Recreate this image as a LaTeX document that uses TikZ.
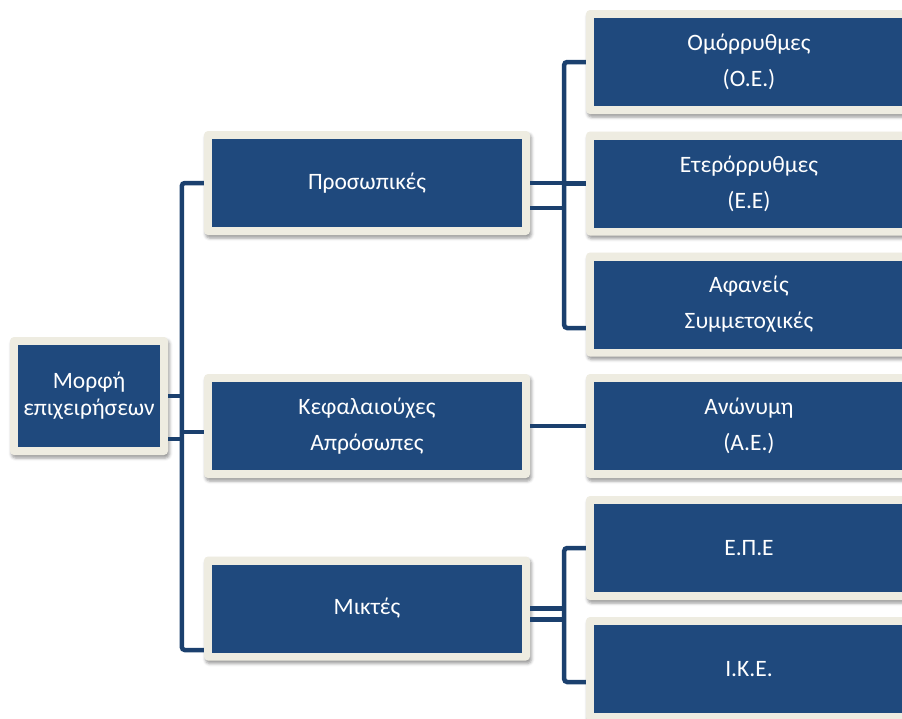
\documentclass[tikz,border=0pt]{standalone}
\usepackage{fontspec}
\setmainfont{Carlito}
\usepackage{xcolor}
\usetikzlibrary{calc,shadows.blur}
\definecolor{boxblue}{HTML}{1F497D}
\definecolor{framecream}{HTML}{EEECE1}
\definecolor{linkblue}{HTML}{1B406E}

\begin{document}
\begin{tikzpicture}[x=1pt, y=-1pt,
  box/.style={rounded corners=4pt, fill=framecream, inner sep=0pt, minimum width=326pt, minimum height=104pt,
    blur shadow={shadow xshift=1.5pt, shadow yshift=-3pt, shadow blur radius=3pt, shadow opacity=40},
    path picture={\fill[boxblue, sharp corners] ([shift={(8pt,8pt)}]path picture bounding box.south west) rectangle ([shift={(-8pt,-8pt)}]path picture bounding box.north east);},
    text=white, align=center, font=\fontsize{23.5}{36}\selectfont},
  rootbox/.style={box, minimum width=158pt, minimum height=118pt, font=\fontsize{23.5}{27}\selectfont},
  link/.style={linkblue, line width=4.5pt},
  trunk/.style={link, rounded corners=3pt}
]
\clip (0,0) rectangle (902,718);
% root and first level
\node[rootbox] (root) at (89,396) {Μορφή\\επιχειρήσεων};
\node[box] (pers) at (367,183) {Προσωπικές};
\node[box] (cap) at (367,426) {Κεφαλαιούχες\\Απρόσωπες};
\node[box] (mixed) at (367,608.5) {Μικτές};
% second level
\node[box] (oe) at (749,62) {Ομόρρυθμες\\(Ο.Ε.)};
\node[box] (ee) at (749,183.5) {Ετερόρρυθμες\\(Ε.Ε)};
\node[box] (afan) at (749,304.5) {Αφανείς\\Συμμετοχικές};
\node[box] (ae) at (749,426) {Ανώνυμη\\(Α.Ε.)};
\node[box] (epe) at (749,548) {Ε.Π.Ε};
\node[box] (ike) at (749,669) {Ι.Κ.Ε.};

\coordinate (ltrunk) at ($(pers.west)+(-22,0)$);
\coordinate (rtrunk) at ($(pers.east)+(34,0)$);

% root to first level
\draw[trunk] (pers.west) -- (ltrunk) |- ($(mixed.west)+(0,41.5)$);
\draw[link] (root.east) -- (root.east -| ltrunk);
\draw[link] ($(root.east)+(0,43)$) -- ($(root.east -| ltrunk)+(0,43)$);
\draw[link] ($(cap.west)+(0,6)$) -- ($(cap.west -| ltrunk)+(0,6)$);

% first to second level
\draw[trunk] (oe.west) -| (rtrunk) |- ($(afan.west)+(0,23.5)$);
\draw[link] (ee.west) -- (ee.west -| rtrunk);
\draw[link] (pers.east) -- (pers.east -| rtrunk);
\draw[link] ($(pers.east)+(0,25)$) -- ($(pers.east -| rtrunk)+(0,25)$);
\draw[link] (cap.east) -- (ae.west);
\draw[trunk] (epe.west) -| (rtrunk |- mixed.east) |- ($(ike.west)+(0,13)$);
\draw[link] (mixed.east) -- (mixed.east -| rtrunk);
\draw[link] ($(mixed.east)+(0,11)$) -- ($(mixed.east -| rtrunk)+(0,11)$);
\end{tikzpicture}
\end{document}
